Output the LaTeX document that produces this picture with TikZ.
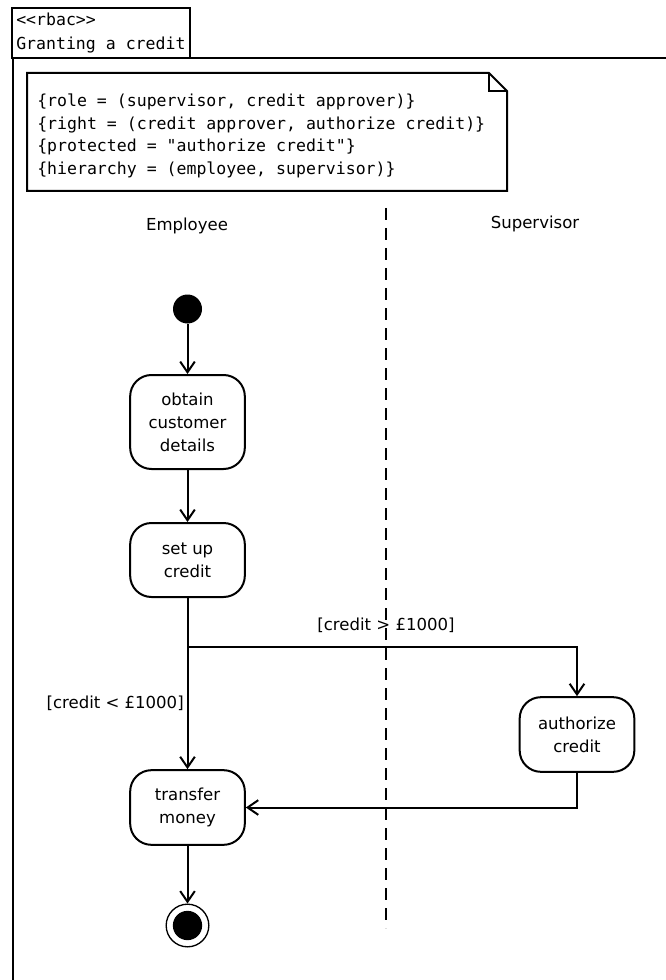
\documentclass[tikz,border=0pt]{standalone}
\usepackage{fontspec}
\setmainfont{DejaVu Sans}
\newfontfamily\monof[Ligatures=TeXOff]{DejaVu Sans Mono}
\usetikzlibrary{arrows.meta}
\begin{document}
\begin{tikzpicture}[x=0.75pt,y=-0.75pt,
 ln/.style={line width=1.5pt},
 arr/.style={ln,-{Straight Barb[length=8pt,width=11pt,line width=1.5pt]}},
 act/.style={draw,ln,rounded corners=16pt,minimum width=86pt,align=center,
   font=\fontsize{12.4}{17.25}\selectfont,inner sep=0pt},
 lbl/.style={font=\fontsize{12.4}{17.25}\selectfont,inner sep=0pt},
 mono/.style={font=\monof\fontsize{12.4}{17.25}\selectfont,inner sep=0pt,align=left}]
\useasboundingbox (0,0) rectangle (666,980);
% frame
\draw[ln] (13,980) -- (13,58) -- (666,58);
\draw[ln] (12,8) rectangle (190,58);
\node[mono,anchor=west] (tab) at (16,33) {<<rbac>>\\Granting a credit};
% note
\draw[ln] (27,73) -- (489,73) -- (507,91) -- (507,191) -- (27,191) -- cycle;
\draw[line width=1pt] (489,73) -- (489,91) -- (507,91);
\node[mono,anchor=west,font=\monof\fontsize{12.4}{17}\selectfont] (note) at (37,136)
 {\{role = (supervisor, credit approver)\}\\
  \{right = (credit approver, authorize credit)\}\\
  \{protected = "authorize credit"\}\\
  \{hierarchy = (employee, supervisor)\}};
% swimlanes
\node[lbl] (emp) at (187,226) {Employee};
\node[lbl] (sup) at (535,224) {Supervisor};
\coordinate (dtop) at (386,208);
\coordinate (dbot) at (386,928);
\draw[line width=1pt,dash pattern=on 9pt off 6pt] (dtop) -- (dbot);
% nodes
\node[circle,fill=black,minimum size=21.75pt,inner sep=0pt] (init) at (187.5,309) {};
\node[act,minimum height=70.5pt] (obtain) at (187.5,422) {obtain\\customer\\details};
\node[act,minimum height=55.5pt] (setup) at (187.5,560) {set up\\credit};
\node[act,minimum height=56pt] (auth) at (577,734.5) {authorize\\credit};
\node[act,minimum height=56pt] (transfer) at (187.5,807.5) {transfer\\money};
\node[circle,draw,line width=1pt,minimum size=32pt,inner sep=0pt] (final) at (187.5,925.5) {};
\node[circle,fill=black,minimum size=22pt,inner sep=0pt] (finalin) at (final.center) {};
% edges
\draw[arr] (init) -- (obtain);
\draw[arr] (obtain) -- (setup);
\draw[arr] (setup) -- (transfer);
\coordinate (br) at (187.5,647);
\draw[arr] (br) -| (auth.north);
\draw[arr] (auth.south) |- (transfer.east);
\draw[arr] (transfer) -- (final);
% labels
\node[lbl] (gt) at (386,625) {[credit > £1000]};
\node[lbl,anchor=east] (lt) at (184,703) {[credit < £1000]};
\end{tikzpicture}
\end{document}
